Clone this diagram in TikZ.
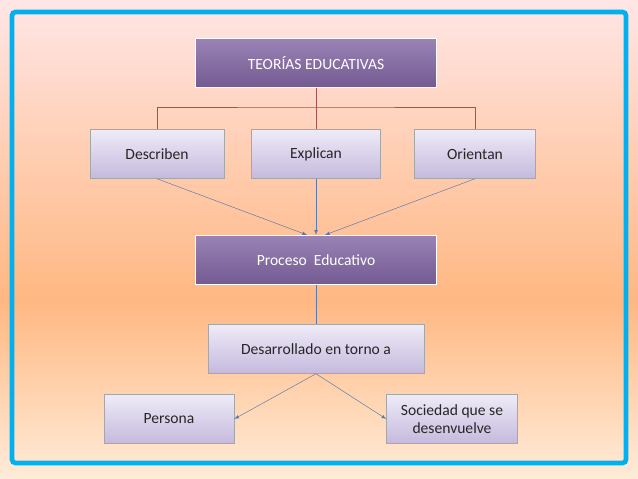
\documentclass[tikz,border=0pt]{standalone}
\usepackage{fontspec}
\setmainfont{Carlito}
\usetikzlibrary{positioning,calc}
\definecolor{frameblue}{RGB}{0,176,240}
\definecolor{darkbox}{RGB}{128,100,162}
\definecolor{lightbox}{RGB}{214,206,236}
\definecolor{treeline}{RGB}{170,80,80}
\definecolor{arrowline}{RGB}{90,120,170}
\begin{document}
\begin{tikzpicture}[x=0.03cm,y=-0.03cm,
        every node/.style={font=\fontsize{13.3}{15.5}\selectfont,align=center,inner sep=2pt},
        dark/.style={draw=white,line width=1pt,top color=darkbox!80,bottom color=darkbox!90!black,text=white,
                     minimum width=241*0.03cm,minimum height=49*0.03cm},
        light/.style={draw=gray!70,top color=lightbox!40!white,bottom color=lightbox!80!darkbox,text=black!85,
                      minimum height=49*0.03cm},
        link/.style={-latex,arrowline,thin}]
   \useasboundingbox (0,0) rectangle (638,479);
   % background
   \fill[top color=pink!40!white,bottom color=orange!60!pink!70] (0,0) rectangle (638,300);
   \fill[top color=orange!60!pink!70,bottom color=orange!15!white] (0,300) rectangle (638,479);
   \draw[frameblue,line width=4pt,rounded corners=3pt] (12,12) rectangle (626,463);
   % boxes
   \node[dark] (T) at (316,63) {TEORÍAS EDUCATIVAS};
   \node[light,minimum width=134*0.03cm] (D) at (157,154) {Describen};
   \node[light,minimum width=129*0.03cm] (X) at (316,154) {Explican};
   \node[light,minimum width=121*0.03cm] (O) at (475,154) {Orientan};
   \node[dark] (P) at (316,260) {Proceso~ Educativo};
   \node[light,minimum width=216*0.03cm] (R) at (316,349) {Desarrollado en torno a};
   \node[light,minimum width=130*0.03cm] (S) at (169,419) {Persona};
   \node[light,minimum width=131*0.03cm] (Q) at (452,419) {Sociedad que se\\desenvuelve};
   % tree
   \coordinate (m) at (316,107);
   \draw[treeline] (T.south) -- (m) (D.north) |- (m) -| (O.north) (m) -- (X.north);
   % arrows
   \draw[link] (D.south) -- ($(P.north)+(-9,0)$);
   \draw[link] (X.south) -- (P.north);
   \draw[link] (O.south) -- ($(P.north)+(9,0)$);
   \draw[arrowline] (P.south) -- (R.north);
   \draw[link] (R.south) -- (S.east);
   \draw[link] (R.south) -- (Q.west);
\end{tikzpicture}
\end{document}
